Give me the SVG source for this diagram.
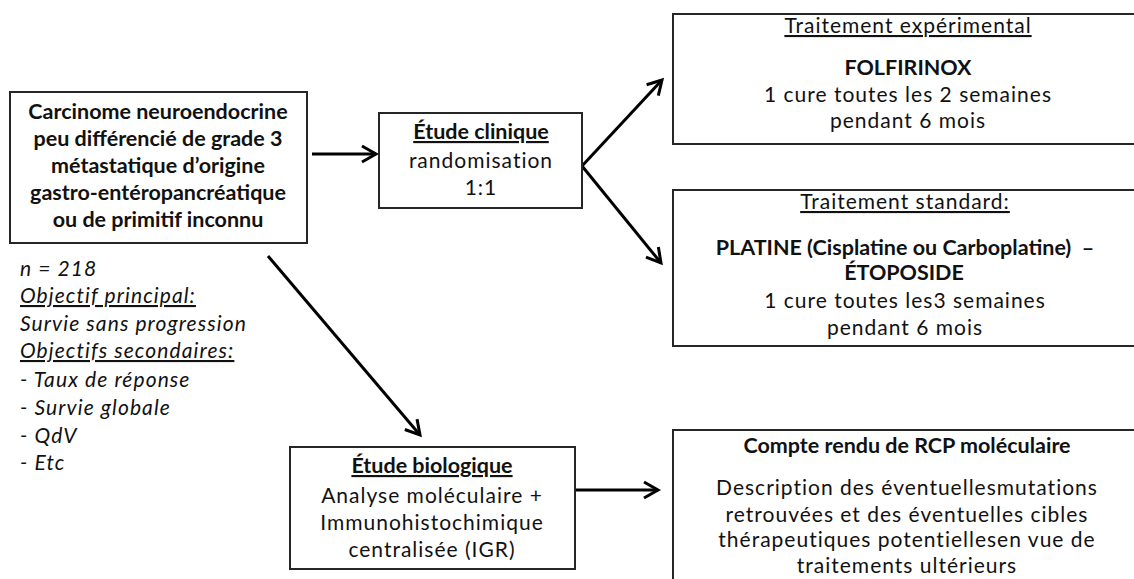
<svg xmlns="http://www.w3.org/2000/svg" width="1134" height="579" viewBox="0 0 1134 579">
  <style>
    .box { fill: #fff; stroke: #262626; stroke-width: 2; }
    .t { font-family: Lato, "Liberation Sans", sans-serif; font-size: 21px; letter-spacing: 1px; fill: #111; text-anchor: middle; }
    .b { font-weight: bold; font-size: 21.5px; letter-spacing: 0; }
    .u { text-decoration: underline; }
    .i { font-family: Lato, "Liberation Sans", sans-serif; font-size: 21px; letter-spacing: 1.1px; font-style: italic; fill: #111; }
    .conn { stroke: #000; stroke-width: 3; fill: none; marker-end: url(#arr); }
  </style>
  <defs>
    <marker id="arr" markerUnits="userSpaceOnUse" markerWidth="24" markerHeight="24" viewBox="-18 -12 24 24" refX="0" refY="0" orient="auto">
      <path d="M-14,-8 L0,0 L-14,8" fill="none" stroke="#000" stroke-width="3" stroke-linejoin="miter"/>
    </marker>
  </defs>
  <rect width="1134" height="579" fill="#fff"/>

  <g id="connectors">
    <line class="conn" x1="312" y1="154" x2="376" y2="154"/>
    <line class="conn" x1="582" y1="166" x2="662" y2="80"/>
    <line class="conn" x1="582" y1="166" x2="661" y2="263"/>
    <line class="conn" x1="268" y1="256" x2="420" y2="435"/>
    <line class="conn" x1="575" y1="490" x2="658" y2="490"/>
  </g>

  <g id="population">
    <rect class="box" x="10" y="92" width="297" height="151"/>
    <text class="t b" x="158" y="119">Carcinome neuroendocrine</text>
    <text class="t b" x="158" y="146">peu différencié de grade 3</text>
    <text class="t b" x="158" y="173">métastatique d’origine</text>
    <text class="t b" x="158" y="200">gastro-entéropancréatique</text>
    <text class="t b" x="158" y="227">ou de primitif inconnu</text>
  </g>

  <g id="objectifs">
    <text class="i" x="20" y="276">n = 218</text>
    <text class="i u" x="20" y="303">Objectif principal:</text>
    <text class="i" x="20" y="331">Survie sans progression</text>
    <text class="i u" x="20" y="358">Objectifs secondaires:</text>
    <text class="i" x="20" y="387">- Taux de réponse</text>
    <text class="i" x="20" y="415">- Survie globale</text>
    <text class="i" x="20" y="443">- QdV</text>
    <text class="i" x="20" y="470">- Etc</text>
  </g>

  <g id="etude-clinique">
    <rect class="box" x="379" y="113" width="203" height="95"/>
    <text class="t b u" x="481" y="139">Étude clinique</text>
    <text class="t" x="481" y="168">randomisation</text>
    <text class="t" x="481" y="195">1:1</text>
  </g>

  <g id="traitement-experimental">
    <rect class="box" x="673" y="14" width="470" height="130"/>
    <text class="t u" x="908" y="33">Traitement expérimental</text>
    <text class="t b" x="908" y="75">FOLFIRINOX</text>
    <text class="t" x="908" y="102">1 cure toutes les 2 semaines</text>
    <text class="t" x="908" y="128">pendant 6 mois</text>
  </g>

  <g id="traitement-standard">
    <rect class="box" x="673" y="190" width="470" height="156"/>
    <text class="t u" x="905" y="209">Traitement standard:</text>
    <text class="t b" x="905" y="255" xml:space="preserve">PLATINE (Cisplatine ou Carboplatine)  –</text>
    <text class="t b" x="904" y="280">ÉTOPOSIDE</text>
    <text class="t" x="905" y="308">1 cure toutes les3 semaines</text>
    <text class="t" x="905" y="335">pendant 6 mois</text>
  </g>

  <g id="etude-biologique">
    <rect class="box" x="290" y="447" width="285" height="122"/>
    <text class="t b u" x="432" y="473">Étude biologique</text>
    <text class="t" x="432" y="503">Analyse moléculaire +</text>
    <text class="t" x="432" y="530">Immunohistochimique</text>
    <text class="t" x="432" y="557">centralisée (IGR)</text>
  </g>

  <g id="rcp-moleculaire">
    <rect class="box" x="673" y="430" width="470" height="160"/>
    <text class="t b" x="907" y="453">Compte rendu de RCP moléculaire</text>
    <text class="t" x="907" y="495">Description des éventuellesmutations</text>
    <text class="t" x="907" y="522">retrouvées et des éventuelles cibles</text>
    <text class="t" x="907" y="547">thérapeutiques potentiellesen vue de</text>
    <text class="t" x="907" y="573">traitements ultérieurs</text>
  </g>
</svg>
